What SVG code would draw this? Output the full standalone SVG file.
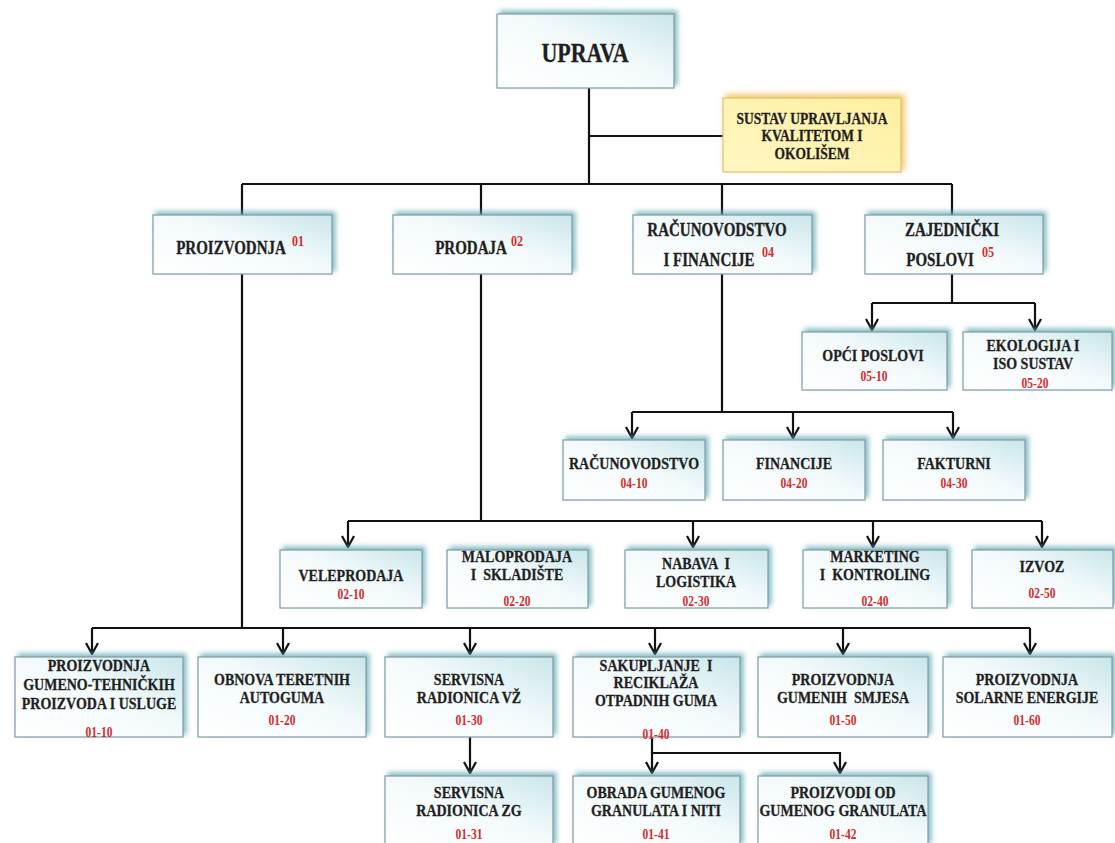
<svg xmlns="http://www.w3.org/2000/svg" width="1115" height="843" viewBox="0 0 1115 843">
<defs>
<style>
.b{fill:url(#gb);stroke:#7f9ca3;stroke-width:1.2;filter:url(#sh)}
.q{fill:url(#gy);stroke:#d9c46a;stroke-width:1.2;filter:url(#shy)}
.t{font-family:"Liberation Serif","Times New Roman",serif;font-weight:bold;fill:#1f1f1f;text-anchor:middle;font-size:14px;white-space:pre;transform-box:fill-box;transform-origin:center;transform:scaleY(1.22);stroke:#1f1f1f;stroke-width:0.25}
.d{font-size:15px}
.c{font-family:"Liberation Serif","Times New Roman",serif;font-weight:bold;fill:#d22a2a;text-anchor:middle;font-size:11.5px;transform-box:fill-box;transform-origin:center;transform:scaleY(1.2)}
.ln{fill:none;stroke:#111;stroke-width:2.2}
.ar{fill:none;stroke:#111;stroke-width:2.2;marker-end:url(#ah)}
</style>
<linearGradient id="gb" x1="0" y1="1" x2="1" y2="0">
<stop offset="0" stop-color="#ffffff"/>
<stop offset="0.55" stop-color="#f3fafb"/>
<stop offset="1" stop-color="#c9e6ea"/>
</linearGradient>
<linearGradient id="gy" x1="0" y1="1" x2="1" y2="0">
<stop offset="0" stop-color="#fff7c4"/>
<stop offset="1" stop-color="#ffef9e"/>
</linearGradient>
<filter id="sh" x="-10%" y="-25%" width="125%" height="150%">
<feGaussianBlur in="SourceAlpha" stdDeviation="2.5"/>
<feOffset dx="3" dy="-3" result="o"/>
<feFlood flood-color="#5fa8b3" flood-opacity="0.75"/>
<feComposite in2="o" operator="in" result="s"/>
<feMerge><feMergeNode in="s"/><feMergeNode in="SourceGraphic"/></feMerge>
</filter>
<filter id="shy" x="-10%" y="-25%" width="125%" height="150%">
<feGaussianBlur in="SourceAlpha" stdDeviation="3"/>
<feOffset dx="3" dy="-3" result="o"/>
<feFlood flood-color="#f2b440" flood-opacity="0.8"/>
<feComposite in2="o" operator="in" result="s"/>
<feMerge><feMergeNode in="s"/><feMergeNode in="SourceGraphic"/></feMerge>
</filter>
<marker id="ah" viewBox="0 -7 13 14" refX="12" refY="0" markerWidth="13" markerHeight="14" markerUnits="userSpaceOnUse" orient="auto">
<path d="M1,-6 L12,0 L1,6" fill="none" stroke="#111" stroke-width="2.2"/>
</marker>
</defs>
<rect width="1115" height="843" fill="#ffffff"/>

<g id="connectors">
<path class="ln" d="M589,88 V184 M589,136 H723 M242,184 H952 M242,184 V215 M481,184 V215 M722,184 V215 M952,184 V215"/>
<path class="ln" d="M952,274 V303 M872,303 H1035"/>
<path class="ar" d="M872,303 V330"/>
<path class="ar" d="M1035,303 V330"/>
<path class="ln" d="M722,274 V412 M632,412 H953"/>
<path class="ar" d="M632,412 V438"/>
<path class="ar" d="M793,412 V438"/>
<path class="ar" d="M953,412 V438"/>
<path class="ln" d="M481,274 V521 M348,521 H1042"/>
<path class="ar" d="M348,521 V547"/>
<path class="ar" d="M693,521 V547"/>
<path class="ar" d="M873,521 V547"/>
<path class="ar" d="M1042,521 V547"/>
<path class="ln" d="M242,274 V628 M92,628 H1030"/>
<path class="ar" d="M92,628 V654"/>
<path class="ar" d="M283,628 V654"/>
<path class="ar" d="M470,628 V654"/>
<path class="ar" d="M655,628 V654"/>
<path class="ar" d="M843,628 V654"/>
<path class="ar" d="M1030,628 V654"/>
<path class="ar" d="M470,737 V773"/>
<path class="ar" d="M652,737 V773"/>
<path class="ar" d="M652,753 H840 V773"/>
</g>

<g id="n-uprava"><rect class="b" x="497" y="14" width="177" height="74"/>
<text class="t" x="585" y="60" style="font-size:22px">UPRAVA</text></g>

<g id="n-sustav"><rect class="q" x="723" y="98" width="178" height="74"/>
<text class="t" x="812" y="123" style="font-size:13.5px">SUSTAV UPRAVLJANJA</text>
<text class="t" x="812" y="140" style="font-size:13.5px">KVALITETOM I</text>
<text class="t" x="812" y="158" style="font-size:13.5px">OKOLIŠEM</text></g>

<g id="n-01"><rect class="b" x="153" y="215" width="179" height="59"/>
<text class="t d" x="231" y="253">PROIZVODNJA</text><text class="c" x="298" y="245" style="font-size:12px">01</text></g>
<g id="n-02"><rect class="b" x="393" y="215" width="179" height="59"/>
<text class="t d" x="471" y="253">PRODAJA</text><text class="c" x="517" y="245" style="font-size:12px">02</text></g>
<g id="n-04"><rect class="b" x="633" y="215" width="179" height="59"/>
<text class="t d" x="717" y="235">RAČUNOVODSTVO</text><text class="t d" x="709" y="265">I FINANCIJE</text><text class="c" x="768" y="256" style="font-size:12px">04</text></g>
<g id="n-05"><rect class="b" x="865" y="215" width="178" height="59"/>
<text class="t d" x="952" y="235">ZAJEDNIČKI</text><text class="t d" x="940" y="265">POSLOVI</text><text class="c" x="988" y="256" style="font-size:12px">05</text></g>

<g id="n-05-10"><rect class="b" x="802" y="332" width="145" height="58"/>
<text class="t" x="873" y="360">OPĆI POSLOVI</text><text class="c" x="874" y="380">05-10</text></g>
<g id="n-05-20"><rect class="b" x="963" y="332" width="149" height="58"/>
<text class="t" x="1033" y="350">EKOLOGIJA I</text><text class="t" x="1033" y="368">ISO SUSTAV</text><text class="c" x="1035" y="387">05-20</text></g>

<g id="n-04-10"><rect class="b" x="563" y="440" width="142" height="60"/>
<text class="t" x="634" y="468">RAČUNOVODSTVO</text><text class="c" x="634" y="487">04-10</text></g>
<g id="n-04-20"><rect class="b" x="723" y="440" width="142" height="60"/>
<text class="t" x="794" y="468">FINANCIJE</text><text class="c" x="794" y="487">04-20</text></g>
<g id="n-04-30"><rect class="b" x="883" y="440" width="142" height="60"/>
<text class="t" x="954" y="468">FAKTURNI</text><text class="c" x="954" y="487">04-30</text></g>

<g id="n-02-10"><rect class="b" x="280" y="550" width="142" height="58"/>
<text class="t" x="351" y="580">VELEPRODAJA</text><text class="c" x="351" y="598">02-10</text></g>
<g id="n-02-20"><rect class="b" x="447" y="550" width="141" height="58"/>
<text class="t" x="517" y="561">MALOPRODAJA</text><text class="t" x="517" y="579">I  SKLADIŠTE</text><text class="c" x="517" y="605">02-20</text></g>
<g id="n-02-30"><rect class="b" x="625" y="550" width="143" height="58"/>
<text class="t" x="696" y="568">NABAVA  I</text><text class="t" x="696" y="586">LOGISTIKA</text><text class="c" x="696" y="605">02-30</text></g>
<g id="n-02-40"><rect class="b" x="803" y="550" width="144" height="58"/>
<text class="t" x="875" y="561">MARKETING</text><text class="t" x="875" y="579">I  KONTROLING</text><text class="c" x="875" y="605">02-40</text></g>
<g id="n-02-50"><rect class="b" x="972" y="550" width="141" height="58"/>
<text class="t" x="1042" y="571">IZVOZ</text><text class="c" x="1042" y="597">02-50</text></g>

<g id="n-01-10"><rect class="b" x="15" y="657" width="168" height="80"/>
<text class="t" x="99" y="670">PROIZVODNJA</text><text class="t" x="99" y="689">GUMENO-TEHNIČKIH</text><text class="t" x="99" y="708">PROIZVODA I USLUGE</text><text class="c" x="99" y="736">01-10</text></g>
<g id="n-01-20"><rect class="b" x="198" y="657" width="168" height="80"/>
<text class="t" x="282" y="684">OBNOVA TERETNIH</text><text class="t" x="282" y="702">AUTOGUMA</text><text class="c" x="282" y="724">01-20</text></g>
<g id="n-01-30"><rect class="b" x="385" y="657" width="168" height="80"/>
<text class="t" x="469" y="684">SERVISNA</text><text class="t" x="469" y="702">RADIONICA VŽ</text><text class="c" x="469" y="724">01-30</text></g>
<g id="n-01-40"><rect class="b" x="573" y="657" width="167" height="80"/>
<text class="t" x="656" y="670">SAKUPLJANJE  I</text><text class="t" x="656" y="687">RECIKLAŽA</text><text class="t" x="656" y="705">OTPADNIH GUMA</text><text class="c" x="656" y="738">01-40</text></g>
<g id="n-01-50"><rect class="b" x="758" y="657" width="170" height="80"/>
<text class="t" x="843" y="684">PROIZVODNJA</text><text class="t" x="843" y="702">GUMENIH  SMJESA</text><text class="c" x="843" y="724">01-50</text></g>
<g id="n-01-60"><rect class="b" x="943" y="657" width="169" height="80"/>
<text class="t" x="1027" y="684">PROIZVODNJA</text><text class="t" x="1027" y="702">SOLARNE ENERGIJE</text><text class="c" x="1027" y="724">01-60</text></g>

<g id="n-01-31"><rect class="b" x="385" y="776" width="168" height="70"/>
<text class="t" x="469" y="797">SERVISNA</text><text class="t" x="469" y="815">RADIONICA ZG</text><text class="c" x="469" y="838">01-31</text></g>
<g id="n-01-41"><rect class="b" x="573" y="776" width="167" height="70"/>
<text class="t" x="656" y="797">OBRADA GUMENOG</text><text class="t" x="656" y="815">GRANULATA I NITI</text><text class="c" x="656" y="838">01-41</text></g>
<g id="n-01-42"><rect class="b" x="758" y="776" width="170" height="70"/>
<text class="t" x="843" y="797">PROIZVODI OD</text><text class="t" x="843" y="815">GUMENOG GRANULATA</text><text class="c" x="843" y="838">01-42</text></g>
</svg>
